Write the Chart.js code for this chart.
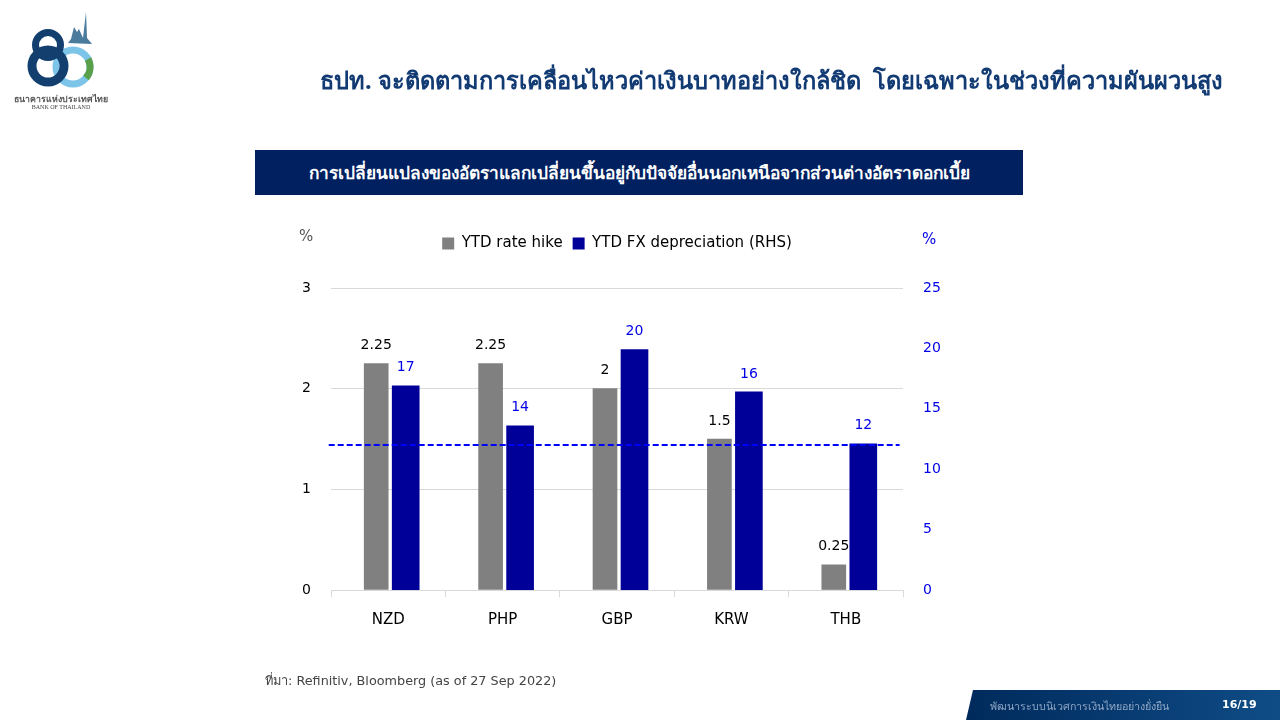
<!DOCTYPE html>
<html lang="th"><head><meta charset="utf-8">
<script src="https://cdn.jsdelivr.net/npm/chart.js@4/dist/chart.umd.min.js"></script>
<style>
html,body{margin:0;padding:0;background:#fff;width:1280px;height:720px;overflow:hidden;font-family:"DejaVu Sans","Noto Sans",sans-serif}
#wrap{position:relative;width:1280px;height:720px}
canvas{position:absolute;left:0;top:0}
.t{position:absolute;white-space:nowrap}
#title{right:57px;top:62px;font:bold 23.6px "Noto Sans","DejaVu Sans",sans-serif;color:#123a73}
#band{left:255px;top:150px;width:768px;height:45px;background:#002060;color:#fff;font:bold 17.3px "Noto Sans","DejaVu Sans",sans-serif;display:flex;align-items:center;justify-content:center}
#src{left:265px;top:670px;font:12.8px "DejaVu Sans","Noto Sans",sans-serif;color:#444}
#pl{left:299px;top:227px;font:15px "DejaVu Sans",sans-serif;color:#555}
#pr{left:922px;top:230px;font:15px "DejaVu Sans",sans-serif;color:#0000e0}
#foot{left:966px;top:690px;width:314px;height:30px;background:linear-gradient(90deg,#002a5c,#0f4c86);clip-path:polygon(7px 0,100% 0,100% 100%,0 100%)}
#ft1{left:990px;top:698px;font:10.7px "Noto Sans",sans-serif;color:#8fa6c4}
#ft2{left:1222px;top:698px;font:bold 11px "DejaVu Sans",sans-serif;color:#fff}
#logo{position:absolute;left:10px;top:8px}
</style></head><body><div id="wrap">
<canvas id="c" width="1280" height="720" style="width:1280px;height:720px"></canvas>
<svg id="logo" width="105" height="104" viewBox="0 0 105 104">
<circle cx="63" cy="59" r="17" fill="none" stroke="#7cc4e8" stroke-width="7"/>
<path d="M78 51a17 17 0 0 1 -2 19" fill="none" stroke="#5aa04a" stroke-width="7"/>
<circle cx="38" cy="37" r="12.5" fill="none" stroke="#123f6d" stroke-width="7"/>
<circle cx="38" cy="58" r="16" fill="none" stroke="#123f6d" stroke-width="9"/>
<path d="M58 35l3-4 3-12 3 5 2-3 4 9 3-26 1 26 5 6z" fill="#4a7a9c"/>
<text x="51" y="94" text-anchor="middle" font-family="Noto Sans,DejaVu Sans" font-size="8.8" font-weight="bold" fill="#555">ธนาคารแห่งประเทศไทย</text>
<text x="51" y="101" text-anchor="middle" font-family="Liberation Serif" font-size="6" fill="#444">BANK OF THAILAND</text>
</svg>
<div class="t" id="title">ธปท. จะติดตามการเคลื่อนไหวค่าเงินบาทอย่างใกล้ชิด&nbsp; โดยเฉพาะในช่วงที่ความผันผวนสูง</div>
<div class="t" id="band">การเปลี่ยนแปลงของอัตราแลกเปลี่ยนขึ้นอยู่กับปัจจัยอื่นนอกเหนือจากส่วนต่างอัตราดอกเบี้ย</div>
<div class="t" id="pl">%</div><div class="t" id="pr">%</div>
<div class="t" id="src">ที่มา: Refinitiv, Bloomberg (as of 27 Sep 2022)</div>
<div class="t" id="foot"></div>
<div class="t" id="ft1">พัฒนาระบบนิเวศการเงินไทยอย่างยั่งยืน</div>
<div class="t" id="ft2">16/19</div>
</div>
<script>
const categories=["NZD","PHP","GBP","KRW","THB"];
const rateHike=[2.25,2.25,2,1.5,0.25];
const fxDepreciation=[16.9,13.6,19.9,16.4,12.1];
const thresholdX=[-0.52,4.47];
const thresholdY=[12,12];
const seriesNames=["YTD rate hike","YTD FX depreciation (RHS)"];
const FONT='"DejaVu Sans","Noto Sans",sans-serif';
const BLUE='#0000e6';
const barOffsets=[-12,17.5];

const barPlace={id:'barPlace',afterDatasetsUpdate(chart){
  barOffsets.forEach((off,i)=>{
    chart.getDatasetMeta(i).data.forEach((el,j)=>{el.x=chart.scales.x.getPixelForValue(j)+off;});
  });
}};
const legendGap={id:'legendGap',afterInit(chart){
  const fit=chart.legend.fit;
  chart.legend.fit=function(){fit.call(this);this.height+=27;};
}};
const valueLabels={id:'valueLabels',afterDatasetsDraw(chart){
  const ctx=chart.ctx;ctx.save();ctx.font='14px '+FONT;ctx.textAlign='center';ctx.textBaseline='middle';
  [0,1].forEach(i=>{
    const ds=chart.data.datasets[i];
    chart.getDatasetMeta(i).data.forEach((el,j)=>{
      ctx.fillStyle=i?BLUE:'#000';
      const v=ds.data[j];
      ctx.fillText(i?String(Math.round(v)):String(v),el.x,el.y-18);
    });
  });
  ctx.restore();
}};
new Chart(document.getElementById('c'),{
  type:'bar',
  data:{labels:categories,datasets:[
    {label:seriesNames[0],data:rateHike,backgroundColor:'#808080',yAxisID:'y',barThickness:24,order:1},
    {label:seriesNames[1],data:fxDepreciation,backgroundColor:'#000099',yAxisID:'y2',barThickness:27,order:1},
    {type:'line',label:'threshold',data:thresholdX.map((x,i)=>({x,y:thresholdY[i]})),xAxisID:'xLine',yAxisID:'y2',
     borderColor:'#0000ff',borderWidth:2,borderDash:[6,3],pointRadius:0,clip:false,order:0}
  ]},
  options:{
    responsive:false,animation:false,devicePixelRatio:1,
    layout:{padding:{left:281,right:327,top:226,bottom:90}},
    plugins:{
      tooltip:{enabled:false},
      legend:{position:'top',labels:{
        filter:it=>it.datasetIndex<2,boxWidth:12,boxHeight:12,padding:10,color:'#000',font:{family:FONT,size:15}}}
    },
    scales:{
      x:{offset:true,grid:{display:true,drawOnChartArea:false,color:'#d9d9d9',tickLength:7,offset:true},
        border:{color:'#d9d9d9'},ticks:{color:'#000',font:{family:FONT,size:15},padding:14,maxRotation:0},
        afterFit(s){s.height=40;}},
      xLine:{type:'linear',display:false,offset:false,min:-0.5,max:4.5},
      y:{position:'left',min:0,max:3,grid:{color:'#d9d9d9',drawTicks:false},border:{display:false},
        ticks:{stepSize:1,color:'#000',font:{family:FONT,size:14},padding:20},afterFit(s){s.width=50;}},
      y2:{position:'right',min:0,max:25,grid:{display:false,drawTicks:false},border:{display:false},
        ticks:{stepSize:5,color:BLUE,font:{family:FONT,size:14},padding:20},afterFit(s){s.width=50;}}
    }
  },
  plugins:[legendGap,barPlace,valueLabels]
});
</script></body></html>
